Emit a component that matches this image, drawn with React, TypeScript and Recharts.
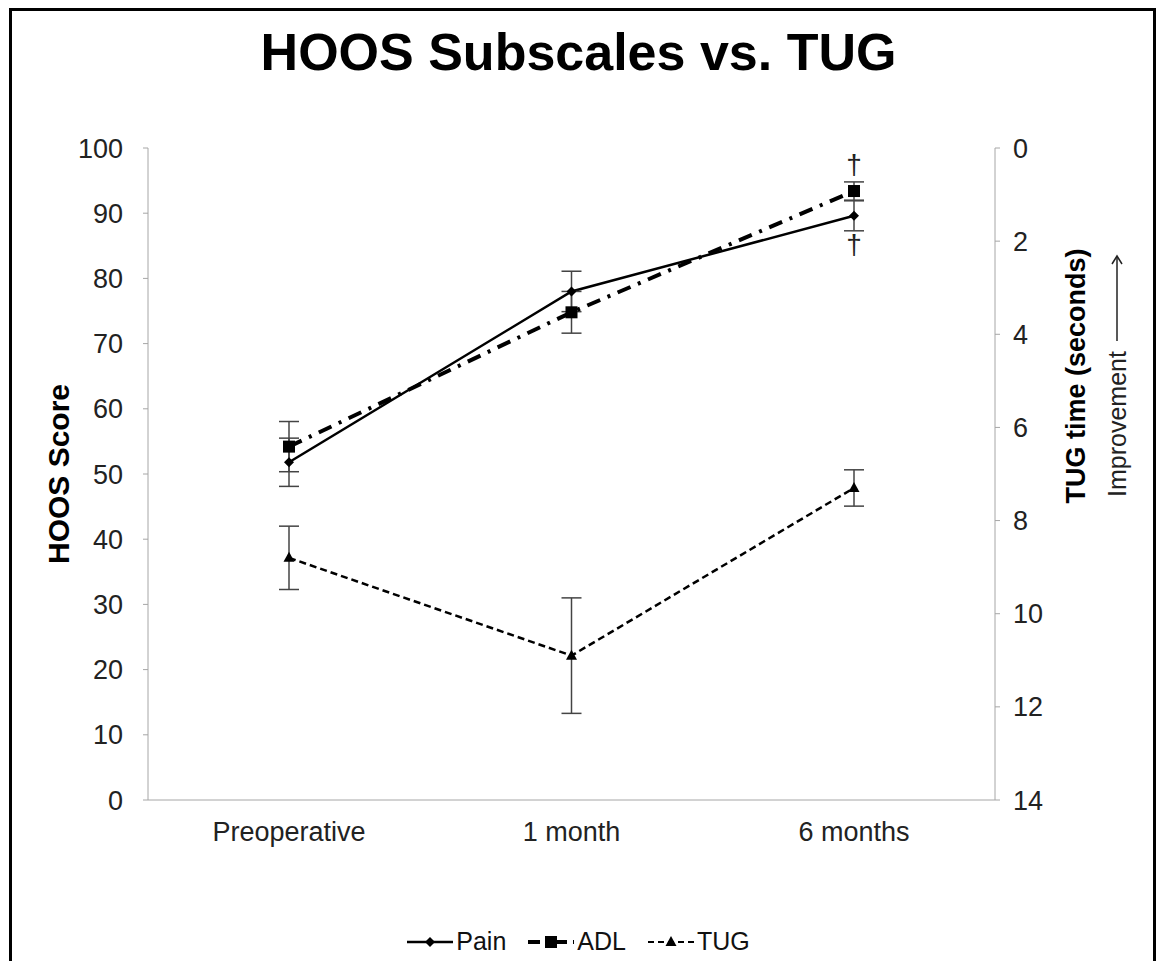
import { ComposedChart, Line, XAxis, YAxis, ErrorBar, Legend, LabelList } from 'recharts'

const timepoints = ['Preoperative', '1 month', '6 months']
const pain = [51.8, 78.0, 89.6]
const painErr = [3.7, 3.1, 2.3]
const adl = [54.2, 74.8, 93.4]
const adlErr = [3.85, 3.2, 1.4]
const tug = [8.8, 10.9, 7.3]
const tugErr = [0.68, 1.24, 0.39]
const painMark = ['', '', '†']
const adlMark = ['', '', '†']

const hoosTicks = [0, 10, 20, 30, 40, 50, 60, 70, 80, 90, 100]
const tugTicks = [0, 2, 4, 6, 8, 10, 12, 14]

const data = timepoints.map((t, i) => ({
  t,
  pain: pain[i],
  painErr: painErr[i],
  adl: adl[i],
  adlErr: adlErr[i],
  tug: tug[i],
  tugErr: tugErr[i],
  painMark: painMark[i],
  adlMark: adlMark[i],
}))

const font = 'Liberation Sans, Arial, sans-serif'
const axisGray = '#a6a6a6'

const Diamond = ({ cx, cy }: any) => (
  <path d={`M${cx},${cy - 5}L${cx + 5},${cy}L${cx},${cy + 5}L${cx - 5},${cy}Z`} fill="#000" />
)
const Square = ({ cx, cy }: any) => <rect x={cx - 6} y={cy - 6} width={12} height={12} fill="#000" />
const Triangle = ({ cx, cy }: any) => (
  <path d={`M${cx},${cy - 6}L${cx + 5.5},${cy + 4}L${cx - 5.5},${cy + 4}Z`} fill="#000" />
)

const dagger = (dy: number) => (p: any) => {
  if (!p.value) return null
  return (
    <text x={p.x} y={p.y + dy} textAnchor="middle" fontFamily={font} fontSize={28} fill="#222">
      {p.value}
    </text>
  )
}

const legendItems = [
  { name: 'Pain', dash: undefined, w: 2.5, Mark: Diamond },
  { name: 'ADL', dash: '12 6 3 6', w: 4, Mark: Square },
  { name: 'TUG', dash: '6 4', w: 2, Mark: Triangle },
]

const renderLegend = () => (
  <div style={{ display: 'flex', justifyContent: 'center', gap: 22, fontFamily: font, fontSize: 25, color: '#111' }}>
    {legendItems.map(({ name, dash, w, Mark }) => (
      <div key={name} style={{ display: 'flex', alignItems: 'center' }}>
        <svg width={46} height={20}>
          <line x1={0} y1={10} x2={46} y2={10} stroke="#000" strokeWidth={w} strokeDasharray={dash} />
          <Mark cx={23} cy={10} />
        </svg>
        <span style={{ marginLeft: 3 }}>{name}</span>
      </div>
    ))}
  </div>
)

const LeftLabel = () => (
  <text x={58} y={474} transform="rotate(-90 58 474)" textAnchor="middle" dominantBaseline="central"
    fontFamily={font} fontSize={30} fontWeight="bold" fill="#000">
    HOOS Score
  </text>
)

const RightLabel = () => (
  <g>
    <text x={1076} y={376} transform="rotate(-90 1076 376)" textAnchor="middle" dominantBaseline="central"
      fontFamily={font} fontSize={27} fontWeight="bold" fill="#000">
      TUG time (seconds)
    </text>
    <text x={1117} y={424} transform="rotate(-90 1117 424)" textAnchor="middle" dominantBaseline="central"
      fontFamily={font} fontSize={25} fill="#222">
      Improvement
    </text>
    <line x1={1117} y1={341} x2={1117} y2={257} stroke="#222" strokeWidth={1.5} />
    <path d="M1112,264L1117,256L1122,264" fill="none" stroke="#222" strokeWidth={1.5} />
  </g>
)

export default function App() {
  return (
    <div style={{ position: 'relative', width: 1157, height: 961, background: '#fff' }}>
      <style>{'body{margin:0;overflow:hidden;background:#fff}'}</style>
      <div style={{
        position: 'absolute', left: 9, top: 8, width: 1147, height: 953, boxSizing: 'border-box',
        borderLeft: '3px solid #000', borderTop: '3px solid #000', borderRight: '3px solid #000',
      }} />
      <div style={{
        position: 'absolute', left: 0, top: 22, width: 1157, textAlign: 'center',
        fontFamily: font, fontWeight: 'bold', fontSize: 52, color: '#000',
      }}>
        HOOS Subscales vs. TUG
      </div>
      <div style={{ position: 'absolute', left: 0, top: 0 }}>
        <ComposedChart width={1157} height={961} data={data}
          margin={{ top: 148, right: 82, bottom: 101, left: 68 }}>
          <XAxis dataKey="t" stroke={axisGray} tickLine={false} tickSize={6} tickMargin={16}
            padding={{ left: 141, right: 141 }}
            tick={{ fill: '#222', fontSize: 27, fontFamily: font }} height={60} />
          <YAxis yAxisId="left" domain={[0, 100]} ticks={hoosTicks} width={80} stroke={axisGray}
            tickSize={5} tickMargin={20} tick={{ fill: '#222', fontSize: 27, fontFamily: font }}
            label={<LeftLabel />} />
          <YAxis yAxisId="right" orientation="right" reversed domain={[0, 14]} ticks={tugTicks} width={80}
            stroke={axisGray} tickSize={5} tickMargin={13} tick={{ fill: '#222', fontSize: 27, fontFamily: font }}
            label={<RightLabel />} />
          <Line yAxisId="left" dataKey="pain" stroke="#000" strokeWidth={2.5} isAnimationActive={false}
            dot={(p: any) => <Diamond key={`pd${p.index}`} cx={p.cx} cy={p.cy} />} activeDot={false}>
            <ErrorBar dataKey="painErr" direction="y" width={10} stroke="#444" strokeWidth={1.5} />
            <LabelList dataKey="painMark" content={dagger(38)} />
          </Line>
          <Line yAxisId="left" dataKey="adl" stroke="#000" strokeWidth={4} strokeDasharray="14 8 3 8"
            isAnimationActive={false}
            dot={(p: any) => <Square key={`ad${p.index}`} cx={p.cx} cy={p.cy} />} activeDot={false}>
            <ErrorBar dataKey="adlErr" direction="y" width={10} stroke="#444" strokeWidth={1.5} />
            <LabelList dataKey="adlMark" content={dagger(-17)} />
          </Line>
          <Line yAxisId="right" dataKey="tug" stroke="#000" strokeWidth={2.5} strokeDasharray="7 4"
            isAnimationActive={false}
            dot={(p: any) => <Triangle key={`td${p.index}`} cx={p.cx} cy={p.cy} />} activeDot={false}>
            <ErrorBar dataKey="tugErr" direction="y" width={10} stroke="#444" strokeWidth={1.5} />
          </Line>
          <Legend layout="horizontal" verticalAlign="middle" align="center" content={renderLegend}
            wrapperStyle={{ position: 'absolute', top: 927, left: 0, width: 1157 }} />
        </ComposedChart>
      </div>
    </div>
  )
}
